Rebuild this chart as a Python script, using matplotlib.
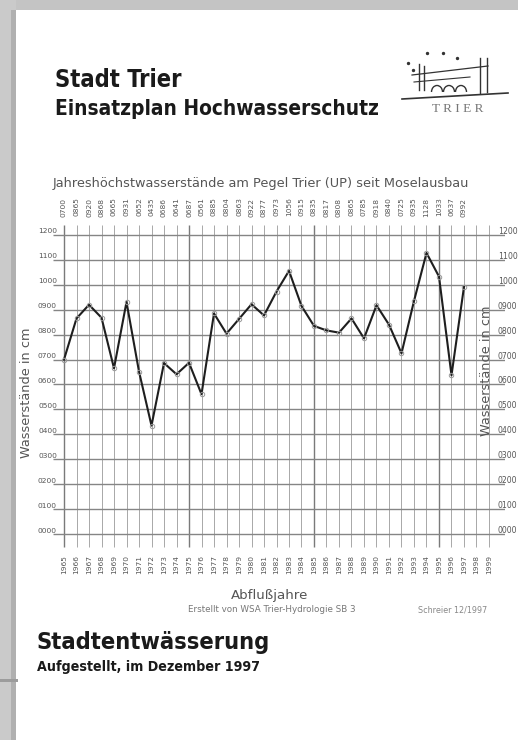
import matplotlib
matplotlib.use("Agg")
import matplotlib.pyplot as plt
from matplotlib import font_manager
from matplotlib.patches import Rectangle, Arc

# Annual maximum water levels at gauge Trier (UP), cm
years = list(range(1965, 1998))
levels = [700, 865, 920, 868, 665, 931, 652, 435, 686, 641, 687, 561, 885, 804,
          863, 922, 877, 973, 1056, 915, 835, 817, 808, 865, 785, 918, 840, 725,
          935, 1128, 1033, 637, 992]
axis_years = list(range(1965, 2000))
y_ticks = list(range(0, 1300, 100))
y_tick_labels = ["%04d" % v for v in y_ticks]

W, H = 518, 740
INK = "#555555"
GRID = "#9a9a9a"


def px(x, y):
    return x / W, 1 - y / H


def narrow_bold():
    # look for a condensed / narrow bold sans face, fall back to Liberation Sans
    for f in font_manager.fontManager.ttflist:
        name = f.name.lower()
        cond = "narrow" in name or "condensed" in name or f.stretch in (
            "condensed", "semi-condensed", "extra-condensed")
        if cond and "serif" not in name and "mono" not in name and f.weight in (700, "bold"):
            return font_manager.FontProperties(fname=f.fname)
    return font_manager.FontProperties(family="Liberation Sans", weight="bold")


HEAD = narrow_bold()

fig = plt.figure(figsize=(W / 100, H / 100), dpi=100)
fig.patch.set_facecolor("white")
renderer = fig.canvas.get_renderer()


def fit_text(x, y, s, width, **kw):
    t = fig.text(*px(x, y), s, fontproperties=HEAD, fontsize=10, **kw)
    w = t.get_window_extent(renderer).width
    t.set_fontsize(10 * width / w)
    return t


# page decoration (pixel coordinates)
page = fig.add_axes([0, 0, 1, 1])
page.set_xlim(0, W)
page.set_ylim(H, 0)
page.axis("off")
page.add_patch(Rectangle((0, 0), W, 10, color="#c4c4c4", lw=0))
page.add_patch(Rectangle((0, 0), 16, H, color="#cacaca", lw=0))
page.add_patch(Rectangle((11, 10), 5, H, color="#b0b0b0", lw=0))
page.add_patch(Rectangle((0, 679), 18, 3, color="#9c9c9c", lw=0))

# header
fit_text(55, 80, "Stadt Trier", 126, color="#1a1a1a", va="center")
fit_text(55, 109, "Einsatzplan Hochwasserschutz", 322, color="#1a1a1a", va="center")

# city logo sketch
lc = "#333333"
page.plot([402, 508], [99, 93], color=lc, lw=1.2)
page.plot([412, 488], [75, 66], color=lc, lw=0.9)
page.plot([414, 470], [82, 77], color=lc, lw=0.8)
for x0, y0, y1 in [(419, 64, 90), (424, 66, 90), (480, 58, 93), (487, 58, 92)]:
    page.plot([x0, x0], [y0, y1], color=lc, lw=1.0)
for cx in (437, 449, 461):
    page.add_patch(Arc((cx, 92), 11, 13, theta1=180, theta2=360, color=lc, lw=1.0))
page.scatter([408, 427, 443, 457, 413], [63, 53, 53, 58, 70], s=2, color=lc)
page.text(458, 109, "T R I E R", fontsize=9.5, family=["Liberation Serif", "DejaVu Serif"],
          color="#777777", ha="center", va="center")

# chart title
fig.text(*px(261, 183), "Jahreshöchstwasserstände am Pegel Trier (UP) seit Moselausbau",
         fontsize=9.3, color=INK, ha="center", va="center")

# chart axes: 1965 at x=64 px, 12.5 px per year; 0 at y=534 px, 1200 at y=235 px
X0, X1 = 1964.12, 2000.28
ax = fig.add_axes([53 / W, 1 - 550 / H, (505 - 53) / W, (550 - 225) / H])
ax.patch.set_alpha(0)
ax.set_xlim(X0, X1)
ax.set_ylim(-64.2, 1240)
ax.axis("off")

for yr in axis_years:
    heavy = (yr - 1965) % 10 == 0
    ax.vlines(yr, -52, 1240, color="#7a7a7a" if heavy else GRID,
              lw=1.0 if heavy else 0.6)
for v in y_ticks:
    ax.hlines(v, X0, X1, color="#858585", lw=1.0)

ax.plot(years, levels, color="#1e1e1e", lw=1.5, zorder=3)
ax.plot(years, levels, ls="none", marker="o", ms=3.2, mfc="none",
        mec="#999999", mew=0.7, zorder=4)

for yr, v in zip(years, levels):
    ax.text(yr, 1312, "%04d" % v, rotation=90, fontsize=5.4, color=INK,
            ha="center", va="center", clip_on=False)
for yr in axis_years:
    ax.text(yr, -124, str(yr), rotation=90, fontsize=5.4, color=INK,
            ha="center", va="center", clip_on=False)
for v, lab in zip(y_ticks, y_tick_labels):
    ax.text(1964.44, v + 14, lab, fontsize=5.4, color=INK, ha="right",
            va="center", clip_on=False)
    ax.text(1999.7, v + 14, lab, fontsize=5.6, color=INK, ha="left",
            va="center", clip_on=False)

fig.text(*px(27, 393), "Wasserstände in cm", rotation=90, fontsize=9.3,
         color=INK, ha="center", va="center")
fig.text(*px(486, 371), "Wasserstände in cm", rotation=90, fontsize=9.3,
         color=INK, ha="center", va="center")

# footer of the chart
fig.text(*px(270, 596), "Abflußjahre", fontsize=9.6, color=INK,
         ha="center", va="center")
fig.text(*px(272, 610), "Erstellt von WSA Trier-Hydrologie SB 3", fontsize=6.3,
         color="#777777", ha="center", va="center")
fig.text(*px(453, 610), "Schreier 12/1997", fontsize=5.8, color="#888888",
         ha="center", va="center")

fit_text(37, 642, "Stadtentwässerung", 232, color="#1a1a1a", va="center")
fit_text(37, 667, "Aufgestellt, im Dezember 1997", 222, color="#1a1a1a", va="center")

fig.savefig("out.png", dpi=100)
